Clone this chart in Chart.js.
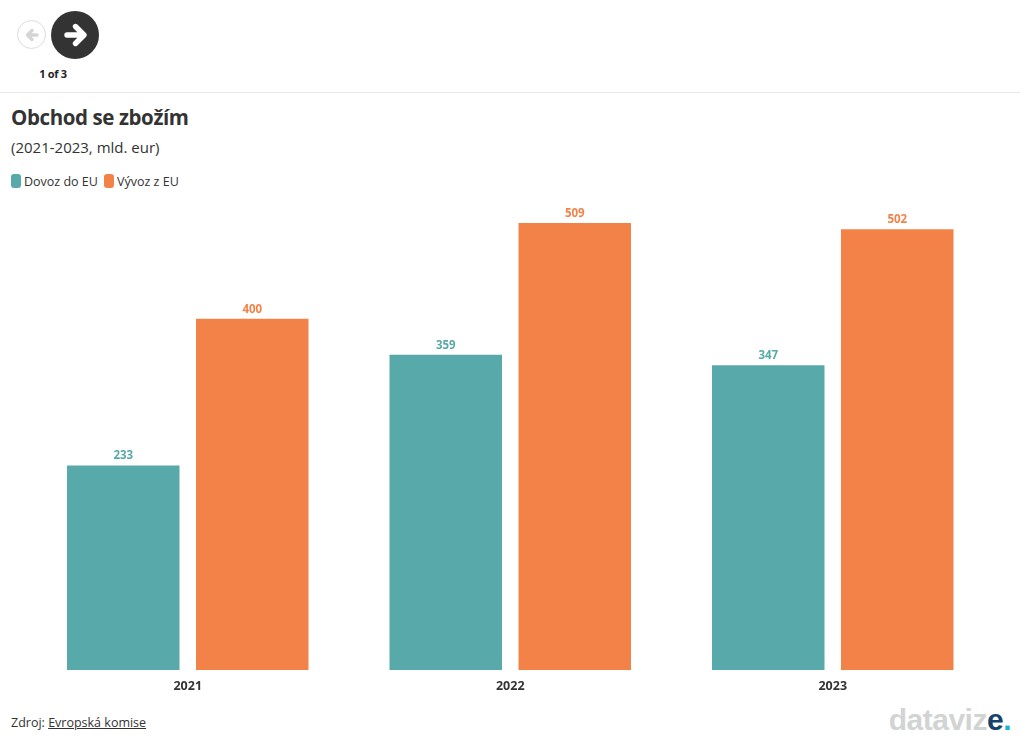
<!DOCTYPE html>
<html lang="cs">
<head>
<meta charset="utf-8">
<title>Obchod se zbožím</title>
<script src="https://cdn.jsdelivr.net/npm/chart.js@4/dist/chart.umd.min.js"></script>
<style>
  html, body { margin: 0; padding: 0; background: #fff; }
  body { width: 1020px; height: 743px; position: relative; overflow: hidden; font-family: "Open Sans", sans-serif; color: #333; }
  .abs { position: absolute; white-space: nowrap; }
  #prev { left: 17px; top: 20px; width: 27px; height: 27px; border: 1px solid #ddd; border-radius: 50%; }
  #next { left: 51px; top: 11px; width: 48px; height: 48px; background: #333; border-radius: 50%; }
  #prev svg, #next svg { display: block; }
  #pager { left: 0; width: 106px; top: 66px; text-align: center; font-size: 11px; font-weight: 700; color: #222; letter-spacing: -0.3px; }
  #rule { left: 0; top: 92px; width: 1020px; height: 1px; background: #e9e9e9; }
  #title { left: 11px; top: 103px; font-size: 20.5px; line-height: 28px; font-weight: 700; letter-spacing: -0.4px; }
  #sub { left: 11px; top: 137px; font-size: 15px; line-height: 20px; }
  .legend { top: 173px; font-size: 12.5px; line-height: 18px; }
  .swatch { top: 174px; width: 10px; height: 14px; border-radius: 3px; }
  #source { left: 11px; top: 714px; font-size: 12.5px; line-height: 18px; }
  #source a { color: #333; text-decoration: underline; }
  #logo { right: 9px; top: 702px; font-family: "Liberation Sans", sans-serif; font-size: 30px; line-height: 36px; font-weight: 700; color: #d2d4d4; letter-spacing: -0.5px; }
  #logo b { color: #16436b; }
  #logo i { color: #19b3d6; font-style: normal; }
  #chartBox { position: absolute; left: 0; top: 195px; width: 1020px; height: 505px; }
</style>
</head>
<body>
<div class="abs" id="prev"><svg width="27" height="27" viewBox="0 0 27 27"><path d="M19 14H10M14 9.5l-4.5 4.5 4.5 4.5" fill="none" stroke="#d5d5d5" stroke-width="3.4" stroke-linecap="round" stroke-linejoin="round"/></svg></div>
<div class="abs" id="next"><svg width="48" height="48" viewBox="0 0 48 48"><path d="M16 24h15M24.5 15.5l8.5 8.5-8.5 8.5" fill="none" stroke="#fff" stroke-width="5.4" stroke-linecap="round" stroke-linejoin="round"/></svg></div>
<div class="abs" id="pager">1 of 3</div>
<div class="abs" id="rule"></div>
<div class="abs" id="title">Obchod se zbožím</div>
<div class="abs" id="sub">(2021-2023, mld. eur)</div>
<div class="abs swatch" style="left:11px;background:#58a9a9"></div>
<div class="abs legend" style="left:24px">Dovoz do EU</div>
<div class="abs swatch" style="left:104px;background:#f38248"></div>
<div class="abs legend" style="left:117px">Vývoz z EU</div>
<div id="chartBox"><canvas id="tradeChart"></canvas></div>
<div class="abs" id="source">Zdroj: <a href="#">Evropská komise</a></div>
<div class="abs" id="logo">dataviz<b>e</b><i>.</i></div>

<script>
const years = ['2021', '2022', '2023'];
const dovoz = [233, 359, 347];
const vyvoz = [400, 509, 502];
const tealColor = '#58a9a9';
const orangeColor = '#f38248';

// value labels above the bars
const barLabels = {
    id: 'barLabels',
    afterDatasetsDraw(chart) {
        const c = chart.ctx;
        c.save();
        c.font = '700 11.5px "Open Sans", sans-serif';
        c.textAlign = 'center';
        c.textBaseline = 'bottom';
        chart.data.datasets.forEach((ds, i) => {
            c.fillStyle = ds.backgroundColor;
            chart.getDatasetMeta(i).data.forEach((bar, j) => {
                c.fillText(ds.data[j], bar.x, bar.y - 3.5);
            });
        });
        c.restore();
    },
};

new Chart(document.getElementById('tradeChart').getContext('2d'), {
    type: 'bar',
    data: {
        labels: years,
        datasets: [
            { label: 'Dovoz do EU', data: dovoz, backgroundColor: tealColor },
            { label: 'Vývoz z EU', data: vyvoz, backgroundColor: orangeColor },
        ],
    },
    options: {
        responsive: true,
        maintainAspectRatio: false,
        animation: false,
        categoryPercentage: 0.8,
        barPercentage: 0.872,
        layout: { padding: { left: 26.5, right: 26, top: 0, bottom: 0 } },
        plugins: {
            legend: { display: false },
            tooltip: { enabled: false },
        },
        scales: {
            x: {
                grid: { display: false },
                border: { display: false },
                ticks: {
                    color: '#333',
                    padding: 1,
                    font: { family: '"Open Sans", sans-serif', size: 12.5, weight: '700' },
                },
                afterFit: (scale) => { scale.height = 30; },
            },
            y: {
                display: false,
                min: 0,
                max: 541,
            },
        },
    },
    plugins: [barLabels],
});
</script>
</body>
</html>
